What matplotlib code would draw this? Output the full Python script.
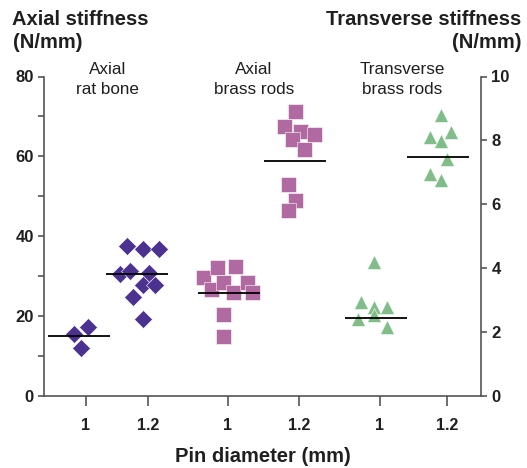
import matplotlib
matplotlib.use('Agg')
import matplotlib.pyplot as plt
from matplotlib.ticker import MultipleLocator

plt.rcParams['font.family'] = ['Liberation Sans', 'DejaVu Sans']

W, H = 527, 468
PURPLE = '#4b3190'
PINK = '#b06aa1'
GREEN = '#80bd88'
SPINE = '#555555'
TEXT = '#1f1f1f'

# --- data ---
tick_pos = [0.95, 2.38, 4.20, 5.84, 7.68, 9.22]
tick_labels = ['1', '1.2', '1', '1.2', '1', '1.2']

# axial stiffness, rat bone (N/mm)
bone_10 = [17.1, 15.5, 12.0]
bone_10_dx = [0.05, -0.26, -0.11]
bone_12 = [37.6, 36.8, 36.8, 30.5, 31.3, 30.7, 27.8, 27.8, 24.7, 19.1]
bone_12_dx = [-0.49, -0.13, 0.25, -0.65, -0.42, 0.02, -0.13, 0.16, -0.35, -0.13]

# axial stiffness, brass rods (N/mm)
brass_ax_10 = [29.6, 32.2, 32.6, 26.7, 28.4, 25.9, 28.4, 25.9, 20.5, 15.0]
brass_ax_10_dx = [-0.56, -0.25, 0.17, -0.39, -0.10, 0.13, 0.44, 0.55, -0.10, -0.10]
brass_ax_12 = [71.4, 67.7, 66.4, 65.6, 64.3, 61.8, 53.1, 49.0, 46.6]
brass_ax_12_dx = [-0.11, -0.34, 0.02, 0.33, -0.17, 0.10, -0.26, -0.11, -0.26]

# transverse stiffness, brass rods (N/mm)
brass_tr_10 = [4.18, 2.92, 2.76, 2.76, 2.40, 2.51, 2.14]
brass_tr_10_dx = [-0.14, -0.43, -0.14, 0.17, -0.50, -0.14, 0.17]
brass_tr_12 = [8.78, 8.10, 7.99, 8.25, 7.42, 6.95, 6.74]
brass_tr_12_dx = [-0.13, -0.38, -0.13, 0.10, 0.01, -0.38, -0.13]

# group mean lines: value and centre offset from the tick
means_axial = [14.9, 30.4, 25.7, 58.7]
means_axial_dx = [-0.16, -0.26, 0.02, -0.09]
means_trans = [2.44, 7.49]
means_trans_dx = [-0.08, -0.20]

group_names = ['Axial\nrat bone', 'Axial\nbrass rods', 'Transverse\nbrass rods']

fig = plt.figure(figsize=(W / 100, H / 100), dpi=100)
x0, x1, y0, y1 = 44.3, 481, 76.5, 395.5
ax = fig.add_axes([x0 / W, 1 - y1 / H, (x1 - x0) / W, (y1 - y0) / H])
ax2 = ax.twinx()

ax.set_xlim(0, 10)
ax.set_ylim(0, 80)
ax2.set_ylim(0, 10)

def scatter(a, tick, vals, dx, marker, ms, color):
    xs = [tick_pos[tick] + d for d in dx]
    a.plot(xs, vals, linestyle='none', marker=marker, ms=ms, color=color,
           mec='white', mew=0.4, zorder=3)

scatter(ax, 0, bone_10, bone_10_dx, 'D', 9.2, PURPLE)
scatter(ax, 1, bone_12, bone_12_dx, 'D', 9.2, PURPLE)
scatter(ax, 2, brass_ax_10, brass_ax_10_dx, 's', 10.8, PINK)
scatter(ax, 3, brass_ax_12, brass_ax_12_dx, 's', 10.8, PINK)
scatter(ax2, 4, brass_tr_10, brass_tr_10_dx, '^', 10.3, GREEN)
scatter(ax2, 5, brass_tr_12, brass_tr_12_dx, '^', 10.3, GREEN)

# mean lines
half = 0.71
for i, (m, d) in enumerate(zip(means_axial, means_axial_dx)):
    c = tick_pos[i] + d
    ax.hlines(m, c - half, c + half, color='black', lw=1.3, zorder=4)
for i, (m, d) in enumerate(zip(means_trans, means_trans_dx)):
    c = tick_pos[i + 4] + d
    ax2.hlines(m, c - half, c + half, color='black', lw=1.3, zorder=4)

for a in (ax, ax2):
    a.spines['top'].set_visible(False)
    for s in a.spines.values():
        s.set_color(SPINE)
        s.set_linewidth(1.2)
ax.spines['right'].set_visible(False)
ax2.spines['left'].set_visible(False)
ax2.spines['bottom'].set_visible(False)

ax.set_xticks(tick_pos)
ax.set_xticklabels(tick_labels, fontsize=11.5, fontweight='bold', color=TEXT)
ax.tick_params(axis='x', length=7, width=1.2, color=SPINE, pad=9)
ax.yaxis.set_major_locator(MultipleLocator(20))
ax.yaxis.set_minor_locator(MultipleLocator(10))
ax.tick_params(axis='y', which='both', length=4.5, width=1.2, color=SPINE, pad=3,
               labelsize=12)
ax2.yaxis.set_major_locator(MultipleLocator(2))
ax2.tick_params(axis='y', length=4.5, width=1.2, color=SPINE, pad=3, labelsize=12)
for t in ax.get_yticklabels() + ax2.get_yticklabels():
    t.set_fontweight('bold')
    t.set_color(TEXT)

ax.set_xlabel('Pin diameter (mm)', fontsize=14.5, fontweight='bold', color=TEXT,
              labelpad=10)

def ftext(x, y, s, **kw):
    fig.text(x / W, 1 - y / H, s, va='baseline', color=TEXT, **kw)

# axis titles
ftext(12.5, 25, 'Axial stiffness', ha='left', fontsize=14.5, fontweight='bold')
ftext(12.5, 48, '(N/mm)', ha='left', fontsize=14.5, fontweight='bold')
ftext(521.5, 25, 'Transverse stiffness', ha='right', fontsize=14.5, fontweight='bold')
ftext(521.5, 48, '(N/mm)', ha='right', fontsize=14.5, fontweight='bold')

# group labels
for cx, name in zip([108, 254, 402], group_names):
    top, bottom = name.split('\n')
    ftext(cx, 74, top, ha='center', fontsize=12.3)
    ftext(cx, 94, bottom, ha='center', fontsize=12.3)

fig.savefig('out.png', dpi=100)
